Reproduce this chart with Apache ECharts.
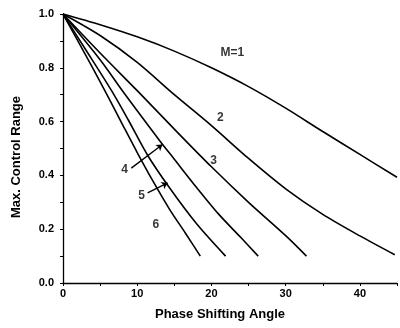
<!DOCTYPE html>
<html>
<head>
<meta charset="utf-8">
<script src="https://cdn.jsdelivr.net/npm/echarts@6/dist/echarts.min.js"></script>
<style>html,body{margin:0;padding:0;background:#fff}#c{width:400px;height:328px}</style>
</head>
<body>
<div id="c"></div>
<script>
// Curves: [phase shifting angle, max. control range]
const curveM1 = [[0,1],[5,0.96],[10,0.915],[15,0.862],[20,0.8],[25,0.73],[30,0.65],[35,0.563],[40,0.478],[45,0.393]];
const curveM2 = [[0,1],[5,0.92],[10,0.82],[15,0.70],[20,0.585],[25,0.463],[30,0.35],[35,0.255],[40,0.175],[44.7,0.105]];
const curveM3 = [[0,1],[5,0.855],[10,0.715],[15,0.572],[20,0.432],[25,0.3],[30,0.176],[32.8,0.1]];
const curveM4 = [[0,1],[5,0.83],[8,0.715],[10,0.64],[13,0.53],[15,0.46],[18,0.355],[21,0.255],[24,0.168],[26.3,0.1]];
const curveM5 = [[0,1],[3,0.87],[6.5,0.717],[8.8,0.606],[11.4,0.475],[14.4,0.352],[18,0.22],[21.9,0.1]];
const curveM6 = [[0,1],[3,0.85],[5.6,0.717],[8,0.59],[10,0.485],[12.3,0.37],[14.4,0.272],[16.5,0.185],[18.5,0.1]];
const curveNames = ['M=1','2','3','4','5','6'];
// label anchor positions (data coords)
const labelPos = [[22.8,0.855],[21.2,0.616],[20.3,0.453],[8.3,0.42],[10.6,0.323],[12.5,0.218]];
// arrows from label to curve (data coords)
const arrow4 = [[9.2,0.427],[13.4,0.515]];
const arrow5 = [[11.4,0.335],[14.1,0.372]];
const xTicks = [0,10,20,30,40];
const yTicks = [0.0,0.2,0.4,0.6,0.8,1.0];

const chart = echarts.init(document.getElementById('c'), null, {renderer:'canvas'});
const curves = [curveM1,curveM2,curveM3,curveM4,curveM5,curveM6];
const font = 'Liberation Sans, Arial, sans-serif';
const series = curves.map((d,i)=>({
  type:'line', name:curveNames[i], data:d, smooth:0.3, showSymbol:false, symbol:'none',
  lineStyle:{color:'#000', width:1.6}, silent:true, z:3
}));
series.push({
  type:'scatter', data: labelPos.map((p,i)=>({value:p, name:curveNames[i]})), symbolSize:0,
  label:{show:true, position:'inside', formatter:p=>p.name, color:'#000', fontFamily:font, fontWeight:'bold', fontSize:12},
  silent:true, z:5
});
series.push({
  type:'lines', coordinateSystem:'cartesian2d', polyline:false,
  data:[{coords:arrow4},{coords:arrow5}],
  symbol:['none','arrow'], symbolSize:6,
  lineStyle:{color:'#000', width:1.3, opacity:1}, silent:true, z:4
});

chart.setOption({
  animation:false,
  backgroundColor:'#fff',
  grid:{left:63, right:2, top:14, bottom:45, containLabel:false},
  xAxis:{
    type:'value', min:0, max:45, interval:5,
    name:'Phase Shifting Angle', nameLocation:'middle', nameGap:25,
    nameTextStyle:{color:'#000', fontFamily:font, fontWeight:'bold', fontSize:13, padding:[0,20,0,0]},
    axisLine:{lineStyle:{color:'#000', width:1.3}},
    axisTick:{show:true, length:3, lineStyle:{color:'#000'}},
    axisLabel:{color:'#000', fontFamily:font, fontWeight:'bold', fontSize:11, margin:5,
      formatter:v=> xTicks.indexOf(v)>=0 ? String(v) : ''},
    splitLine:{show:false}
  },
  yAxis:{
    type:'value', min:0, max:1, interval:0.1,
    name:'Max. Control Range', nameLocation:'middle', nameGap:40, nameRotate:90,
    nameTextStyle:{color:'#000', fontFamily:font, fontWeight:'bold', fontSize:13, padding:[0,17,0,0]},
    axisLine:{show:true, lineStyle:{color:'#000', width:1.3}},
    axisTick:{show:true, length:3, lineStyle:{color:'#000'}},
    axisLabel:{color:'#000', fontFamily:font, fontWeight:'bold', fontSize:11, margin:9,
      formatter:v=>{const r=Math.round(v*10)/10; return yTicks.some(t=>Math.abs(t-r)<1e-9) ? r.toFixed(1) : '';}},
    splitLine:{show:false}
  },
  series:series
});
</script>
</body>
</html>
